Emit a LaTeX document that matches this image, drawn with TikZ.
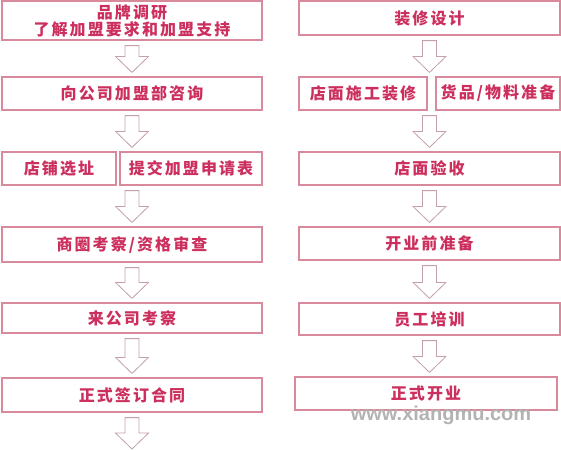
\documentclass[tikz,border=0pt]{standalone}
\usepackage{fontspec}
\usetikzlibrary{calc}
\newfontfamily\cjk[LetterSpace=13]{Noto Sans CJK SC}
\newfontfamily\wmfont{Liberation Sans}
\definecolor{txtred}{HTML}{CC2E5D}
\definecolor{boxline}{HTML}{D8899B}
\definecolor{arrline}{HTML}{C4A0A8}
\definecolor{wmgray}{HTML}{B3B3B3}
\tikzset{
  flowbox/.style={draw=boxline, line width=1.2pt, fill=white, inner sep=0pt,
    text=txtred, font=\cjk\bfseries\fontsize{16pt}{17pt}\selectfont, align=center},
  blockarrow/.style={draw=arrline, line width=0.8pt, fill=white, line join=miter},
  watermark/.style={text=wmgray, font=\wmfont\bfseries\fontsize{20pt}{22pt}\selectfont}
}
\newcommand\boxat[6]{%
  \node[flowbox, minimum width={(#4-#2)*1pt}, minimum height={(#5-#3)*1pt}]
    (#1) at ({(#2+#4)/2},{(#3+#5)/2}) {#6};}
\newcommand\flowarrow[3]{%
  \coordinate (s) at ($(#3.center |- #1.south)+(0,5)$);
  \coordinate (e) at ($(#3.center |- #2.north)+(0,-4)$);
  \draw[blockarrow] ($(s)+(-7,0)$) -- ($(s)+(7,0)$) -- ($(e)+(7,-16)$)
    -- ($(e)+(16.5,-16)$) -- (e) -- ($(e)+(-16.5,-16)$) -- ($(e)+(-7,-16)$) -- cycle;}
\begin{document}
\begin{tikzpicture}[x=1pt,y=-1pt]
\useasboundingbox[fill=white] (0,0) rectangle (561,450);
% left column
\boxat{L1}{2}{1}{262}{40}{品牌调研\\了解加盟要求和加盟支持}
\boxat{L2}{2}{77}{262}{110}{向公司加盟部咨询}
\boxat{L3a}{2}{152}{116}{185}{店铺选址}
\boxat{L3b}{120}{152}{262}{185}{提交加盟申请表}
\boxat{L4}{2}{227}{262}{262}{商圈考察/资格审查}
\boxat{L5}{2}{303}{262}{333}{来公司考察}
\boxat{L6}{2}{378}{262}{412}{正式签订合同}
\coordinate (Lend) at (132,453);
% right column
\boxat{R1}{299}{1}{560}{35}{装修设计}
\boxat{R2a}{299}{77}{427}{110}{店面施工装修}
\boxat{R2b}{436}{77}{560}{110}{货品/物料准备}
\boxat{R3}{299}{152}{560}{185}{店面验收}
\boxat{R4}{299}{227}{560}{260}{开业前准备}
\boxat{R5}{299}{303}{560}{335}{员工培训}
\boxat{R6}{295}{377}{557}{410}{正式开业}
% arrows
\flowarrow{L1}{L2}{L1}
\flowarrow{L2}{L3a}{L2}
\flowarrow{L3a}{L4}{L4}
\flowarrow{L4}{L5}{L4}
\flowarrow{L5}{L6}{L5}
\flowarrow{L6}{Lend}{L6}
\flowarrow{R1}{R2a}{R1}
\flowarrow{R2a}{R3}{R3}
\flowarrow{R3}{R4}{R3}
\flowarrow{R4}{R5}{R4}
\flowarrow{R5}{R6}{R5}
% watermark
\node[watermark] (wm) at (441,415) {www.xiangmu.com};
\end{tikzpicture}
\end{document}
